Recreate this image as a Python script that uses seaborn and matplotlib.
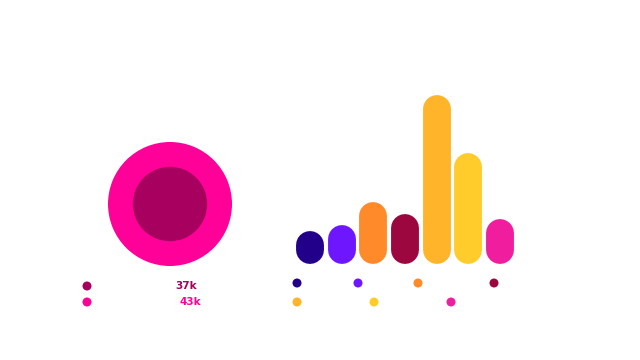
import numpy as np
import pandas as pd
import matplotlib
matplotlib.use("Agg")
import matplotlib.pyplot as plt
import seaborn as sns

# data
ring_labels = ["Inner", "Outer"]
ring_values = ["37k", "43k"]
ring_radius = [0.6, 1.0]
ring_colors = ["#A8005F", "#FF0099"]

bar_cats = ["A", "B", "C", "D", "E", "F", "G"]
bar_values = [33, 39, 62, 50, 169, 111, 45]
bar_colors = ["#22008A", "#6E17FF", "#FF8A2A", "#9C073F", "#FFB42A", "#FFCC2C", "#F01E9E"]

sns.set_style("white")
fig = plt.figure(figsize=(6.4, 3.6), dpi=100)
fig.patch.set_facecolor("white")

# concentric circles
axp = fig.add_axes([108 / 640, (360 - 266) / 360, 124 / 640, 124 / 360])
for r, c in sorted(zip(ring_radius, ring_colors), reverse=True):
    axp.pie([1], radius=r, colors=[c], startangle=90,
            wedgeprops=dict(linewidth=0))
axp.set_xlim(-1, 1)
axp.set_ylim(-1, 1)
axp.set_aspect("equal")
axp.axis("off")

# rounded bars
axb = fig.add_axes([290 / 640, (360 - 264) / 360, 230 / 640, 174 / 360])
df = pd.DataFrame({"cat": bar_cats, "val": bar_values})
sns.barplot(data=df, x="cat", y="val", hue="cat", palette=bar_colors,
            width=0.88, saturation=1, legend=False, ax=axb)
axb.set_xlim(-0.63, 6.63)
axb.set_ylim(0, 174)
fig.canvas.draw()
bbox = axb.get_window_extent()
xpp = (6.63 + 0.63) / bbox.width
ypp = 174 / bbox.height
# swap the square bars for capsules (thick lines with round caps)
for p in list(axb.patches):
    x, y = p.get_x(), p.get_y()
    w, h = p.get_width(), p.get_height()
    col = p.get_facecolor()
    p.remove()
    wpx = w / xpp
    r = (wpx / 2) * ypp
    axb.plot([x + w / 2, x + w / 2], [y + r, y + h - r], color=col,
             linewidth=wpx * 72 / fig.dpi, solid_capstyle="round")
axb.axis("off")

# legends
axl = fig.add_axes([0, 0, 1, 1])
axl.set_xlim(0, 640)
axl.set_ylim(360, 0)
axl.axis("off")
left_pos = [(87, 286, 186), (87, 302, 190)]
for (x, y, tx), c, v in zip(left_pos, ring_colors, ring_values):
    axl.scatter([x], [y], s=42, color=c, edgecolor="none")
    axl.text(tx, y, v, color=c, fontsize=7.5, fontweight="bold",
             ha="center", va="center")
bar_leg = [(297, 283), (358, 283), (418, 283), (494, 283),
           (297, 302), (374, 302), (451, 302)]
for (x, y), c in zip(bar_leg, bar_colors):
    axl.scatter([x], [y], s=42, color=c, edgecolor="none")

fig.savefig("out.png", dpi=100, facecolor="white")
